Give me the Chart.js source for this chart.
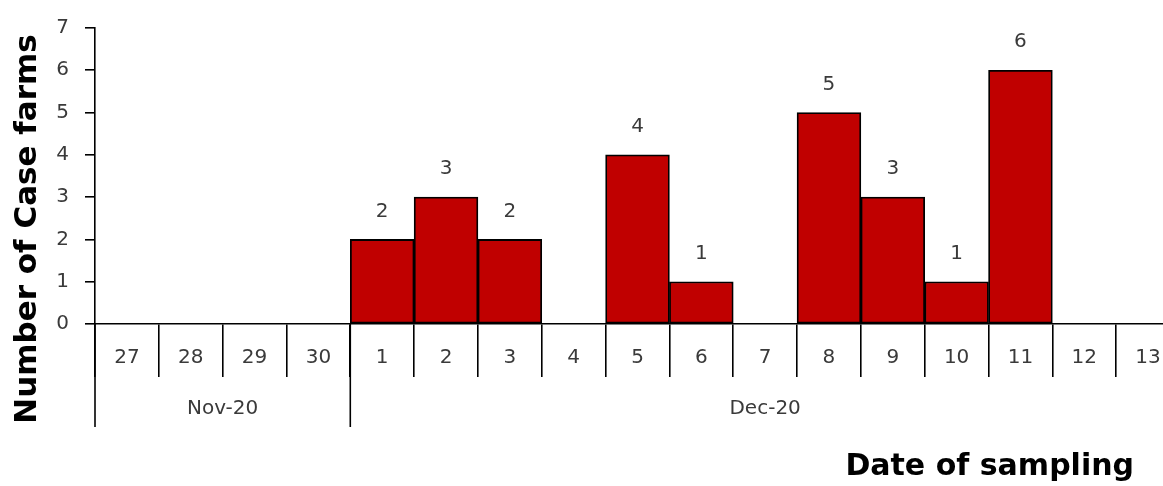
<!DOCTYPE html>
<html>
<head>
    <meta charset="UTF-8" />
    <title>Case farms by date of sampling</title>
    <style>
        html, body { margin: 0; padding: 0; overflow: hidden; background: #fff; }
        #wrap { width: 1180px; height: 486px; }
    </style>
</head>
<body>
    <div id="wrap">
        <canvas id="grafico" width="1180" height="486"></canvas>
    </div>
    <script src="https://cdn.jsdelivr.net/npm/chart.js"></script>
    <script>
    const dias = ['27', '28', '29', '30', '1', '2', '3', '4', '5', '6', '7', '8', '9', '10', '11', '12', '13'];
    const casos = [0, 0, 0, 0, 2, 3, 2, 0, 4, 1, 0, 5, 3, 1, 6, 0, 0];
    const meses = ['Nov-20', 'Dec-20'];
    const inicioMes = [0, 4]; // indice de la primera fecha de cada mes
    const yTicks = [0, 1, 2, 3, 4, 5, 6, 7];

    const fuente = 'Tahoma, "DejaVu Sans", "Noto Sans", sans-serif';
    const grisTexto = '#3a3a3a';

    // etiquetas, meses y titulos
    const extras = {
        id: 'extras',
        afterDraw(chart) {
            const { ctx, chartArea } = chart;
            const x = chart.scales.x;
            const meta = chart.getDatasetMeta(0);
            const ancho = x.getPixelForValue(1) - x.getPixelForValue(0);
            ctx.save();

            // numeros encima de las barras
            ctx.fillStyle = grisTexto;
            ctx.font = '20px ' + fuente;
            ctx.textAlign = 'center';
            ctx.textBaseline = 'middle';
            meta.data.forEach((bar, i) => {
                if (casos[i] > 0) ctx.fillText(String(casos[i]), bar.x, bar.y - 28);
            });

            // separadores de meses
            ctx.strokeStyle = '#000';
            ctx.lineWidth = 1.6;
            inicioMes.forEach((ini, m) => {
                const x0 = x.getPixelForValue(ini) - ancho / 2;
                ctx.beginPath();
                ctx.moveTo(x0, chartArea.bottom);
                ctx.lineTo(x0, chartArea.bottom + 103);
                ctx.stroke();
                const fin = m + 1 < inicioMes.length ? inicioMes[m + 1] : dias.length;
                const x1 = x.getPixelForValue(fin - 1) + ancho / 2;
                ctx.font = '20px ' + fuente;
                ctx.fillStyle = grisTexto;
                ctx.fillText(meses[m], (x0 + x1) / 2, chartArea.bottom + 85);
            });

            // titulos de ejes
            ctx.fillStyle = '#000';
            ctx.font = 'bold 30px ' + fuente;
            ctx.textAlign = 'right';
            ctx.fillText('Date of sampling', 1134, 467);

            ctx.font = 'bold 31px ' + fuente;
            ctx.translate(28, 229);
            ctx.rotate(-Math.PI / 2);
            ctx.textAlign = 'center';
            ctx.fillText('Number of Case farms', 0, 0);
            ctx.restore();
        }
    };

    new Chart(document.getElementById('grafico').getContext('2d'), {
        type: 'bar',
        data: {
            labels: dias,
            datasets: [{
                label: 'Case farms',
                data: casos,
                backgroundColor: '#c00000',
                borderColor: '#000',
                borderWidth: 1.8,
                borderSkipped: false,
                barPercentage: 1,
                categoryPercentage: 1
            }]
        },
        options: {
            responsive: false,
            animation: false,
            layout: { padding: { top: 25, left: 0, right: 0, bottom: 0 } },
            plugins: { legend: { display: false }, tooltip: { enabled: false } },
            scales: {
                x: {
                    grid: { drawOnChartArea: false, tickLength: 53, color: '#000', lineWidth: 1.6, offset: true },
                    border: { color: '#000', width: 1.6 },
                    ticks: { color: grisTexto, font: { size: 20, family: fuente }, padding: -31, maxRotation: 0, autoSkip: false },
                    afterFit(scale) { scale.height = 162; }
                },
                y: {
                    min: 0,
                    max: 7,
                    afterBuildTicks(scale) { scale.ticks = yTicks.map(v => ({ value: v })); },
                    grid: { drawOnChartArea: false, tickLength: 10, color: '#000', lineWidth: 1.6 },
                    border: { color: '#000', width: 1.6 },
                    ticks: { color: grisTexto, font: { size: 20, family: fuente }, padding: 16 },
                    afterFit(scale) { scale.width = 95; }
                }
            }
        },
        plugins: [extras]
    });
    </script>
</body>
</html>
